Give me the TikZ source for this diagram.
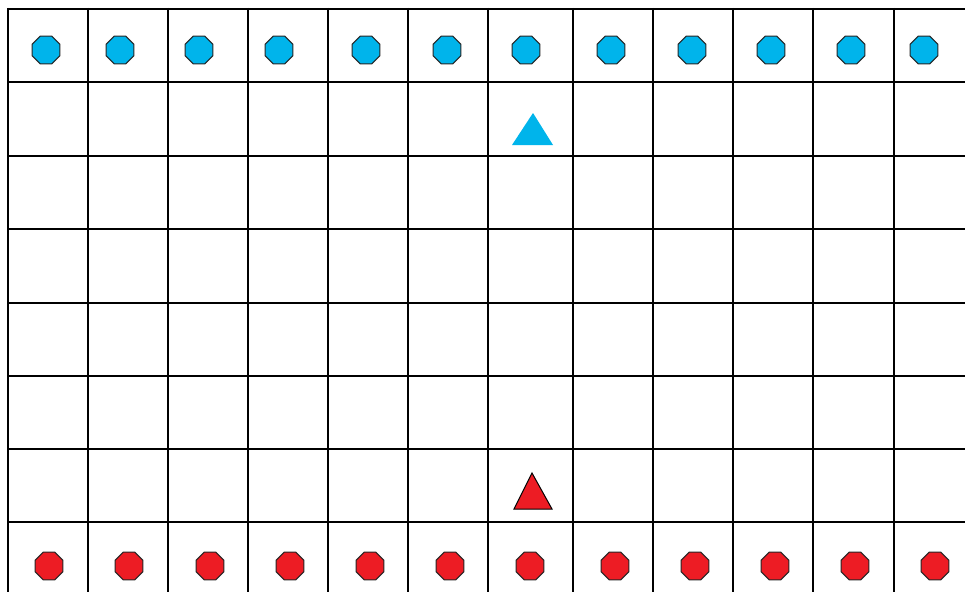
\documentclass[tikz,border=0pt]{standalone}
\usepackage{tikz}
\usetikzlibrary{shapes.geometric}
\definecolor{pieceblue}{RGB}{0,180,235}
\definecolor{piecered}{RGB}{237,28,36}
\begin{document}
\begin{tikzpicture}[x=1pt, y=-1pt,
	gridline/.style={line width=2pt, black},
	pawn/.style={regular polygon, regular polygon sides=8, minimum size=30pt,
		inner sep=0pt, draw=black!85, line width=1pt}]
		\useasboundingbox (0,0) rectangle (965,591);
		\fill[white] (0,0) rectangle (965,591);
		\clip (0,0) rectangle (965,591);
		% board
		\foreach \x in {8,88,168,248,328,408,488,573,653,733,813,894}
		\draw[gridline] (\x,8) -- (\x,600);
		\foreach \y in {9,82,156,229,302.5,376,449,522}
		\draw[gridline] (7,\y) -- (975,\y);
		% pieces
		\foreach \x [count=\i] in {46,120,199,279,366,447,526,611,692,771,851,924}
		\node[pawn, fill=pieceblue] (B\i) at (\x,50) {};
		\foreach \x [count=\i] in {49,129,210,290,370,450,530,615,695,775,855,935}
		\node[pawn, fill=piecered] (R\i) at (\x,566) {};
		\coordinate (P) at (533,113);
		\coordinate (Q) at (532,473);
		\fill[pieceblue] (P) -- (553,145) -- (512,145) -- cycle;
		\draw[line width=1pt, fill=piecered] (Q) -- (552,509) -- (514,509) -- cycle;
	\end{tikzpicture}
\end{document}
